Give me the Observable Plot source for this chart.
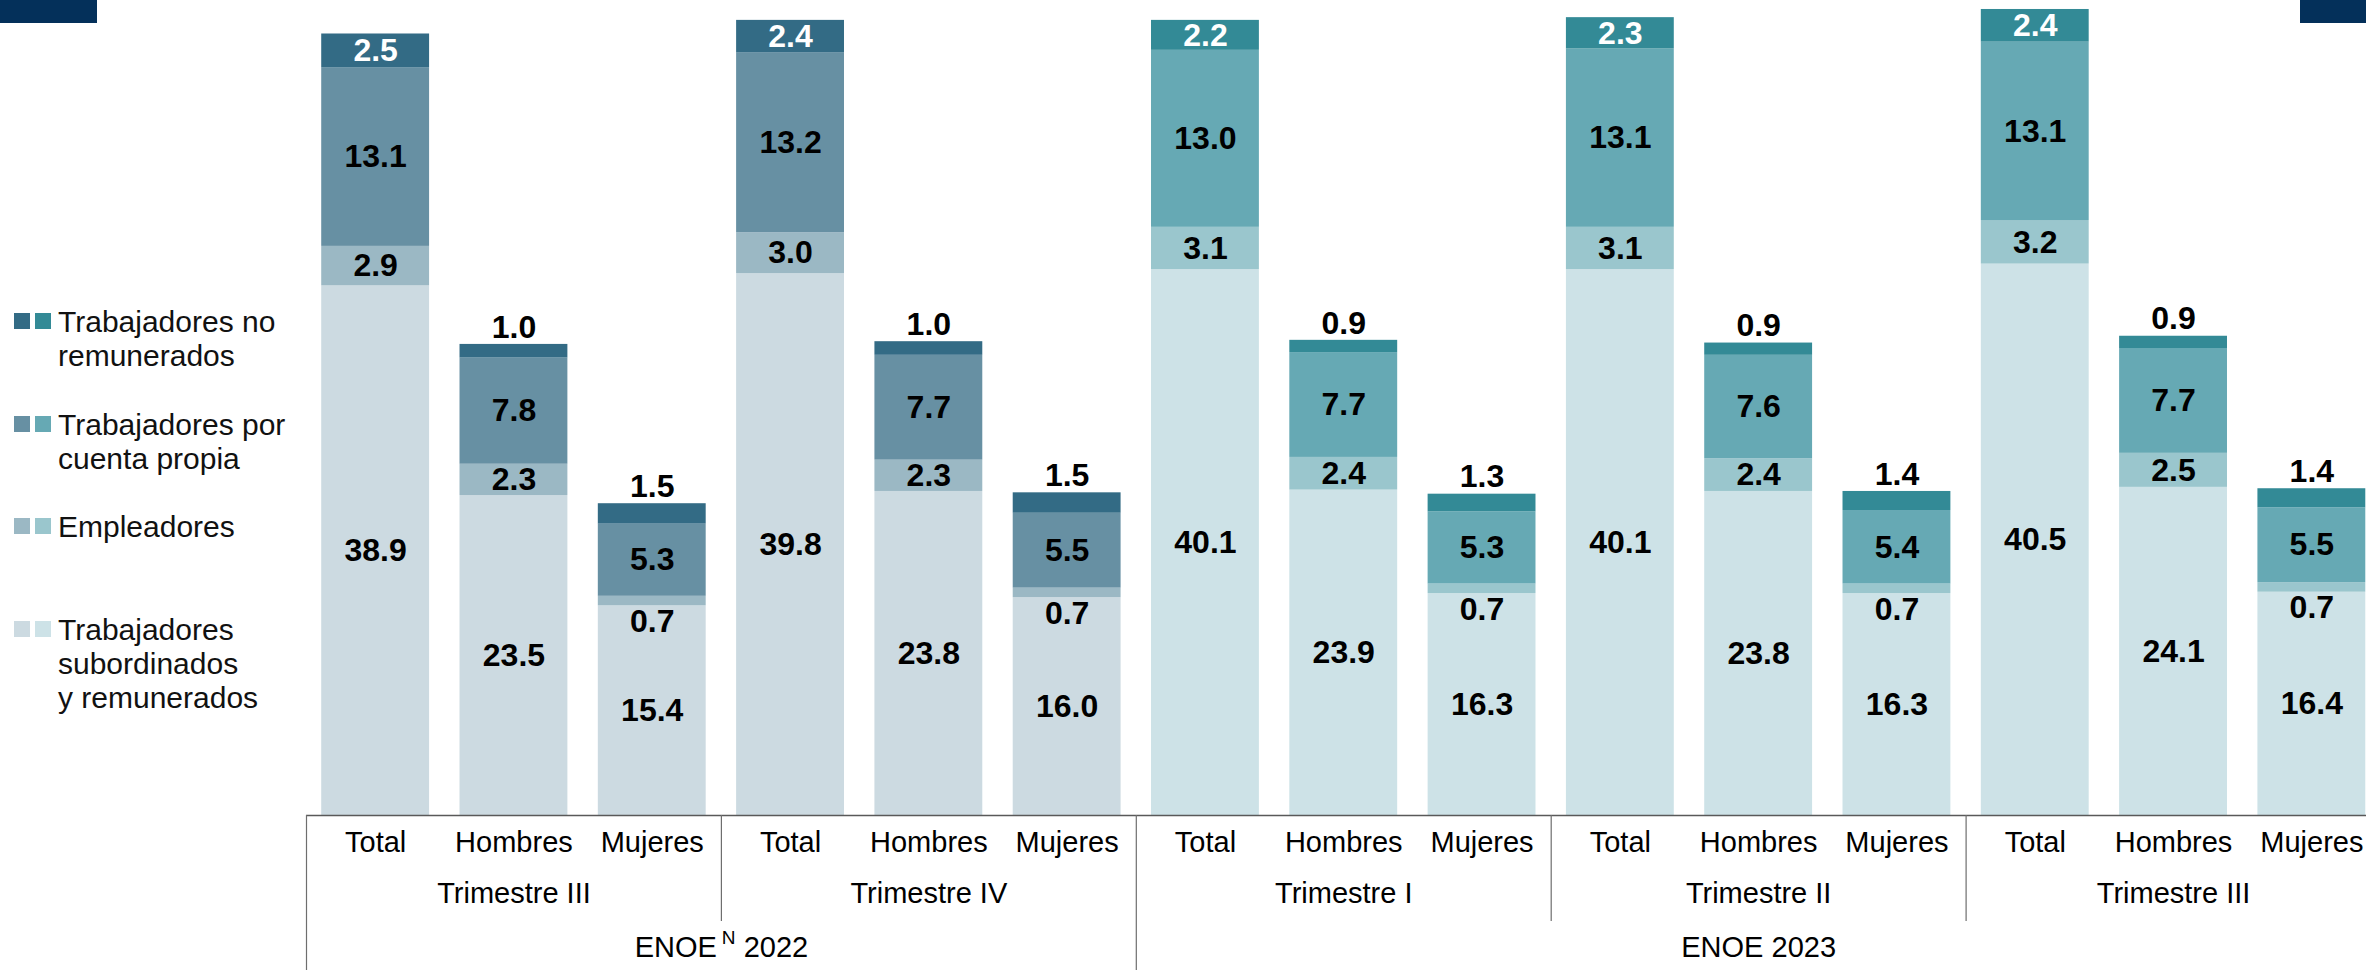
<!DOCTYPE html>
<html><head><meta charset="utf-8">
<script src="https://cdn.jsdelivr.net/npm/d3@7"></script>
<script src="https://cdn.jsdelivr.net/npm/@observablehq/plot@0.6"></script>
<style>
html,body{margin:0;padding:0;background:#fff;}
#wrap{position:relative;width:2366px;height:970px;overflow:hidden;font-family:"Liberation Sans",Arial,sans-serif;}
.navy{position:absolute;top:0;height:23px;background:#04305A;}
.entry{position:absolute;left:14px;display:flex;align-items:flex-start;}
.sw{width:16px;height:16px;margin-right:5px;margin-top:8px;}
.lt{margin-left:2px;font-size:30px;line-height:34px;color:#111;white-space:nowrap;}
#chart{position:absolute;left:0;top:0;}
</style></head>
<body><div id="wrap"><div id="chart"></div></div>
<script>
// ---------- data ----------
const categories = ["Total", "Hombres", "Mujeres"];
const quarters = ["Trimestre III", "Trimestre IV", "Trimestre I", "Trimestre II", "Trimestre III"];
const quarterYears = ["2022", "2022", "2023", "2023", "2023"];
const years = ["2022", "2023"];
const yearLabels = ["ENOE N 2022", "ENOE 2023"];
const seriesNames = ["Trabajadores subordinados y remunerados", "Empleadores", "Trabajadores por cuenta propia", "Trabajadores no remunerados"];
const legendLines = [["Trabajadores no", "remunerados"], ["Trabajadores por", "cuenta propia"], ["Empleadores"], ["Trabajadores", "subordinados", "y remunerados"]];

// 15 bars: T-III 2022 (Total, Hombres, Mujeres), T-IV 2022, T-I 2023, T-II 2023, T-III 2023
const subordinados  = [38.9, 23.5, 15.4, 39.8, 23.8, 16.0, 40.1, 23.9, 16.3, 40.1, 23.8, 16.3, 40.5, 24.1, 16.4];
const empleadores   = [2.9, 2.3, 0.7, 3.0, 2.3, 0.7, 3.1, 2.4, 0.7, 3.1, 2.4, 0.7, 3.2, 2.5, 0.7];
const cuentaPropia  = [13.1, 7.8, 5.3, 13.2, 7.7, 5.5, 13.0, 7.7, 5.3, 13.1, 7.6, 5.4, 13.1, 7.7, 5.5];
const noRemunerados = [2.5, 1.0, 1.5, 2.4, 1.0, 1.5, 2.2, 0.9, 1.3, 2.3, 0.9, 1.4, 2.4, 0.9, 1.4];

const colors2022 = ["#CCDAE1", "#9BB8C4", "#6790A3", "#336B85"];
const colors2023 = ["#CDE2E7", "#9AC6CD", "#66A9B4", "#338A96"];

// ---------- build tables ----------
const series = [subordinados, empleadores, cuentaPropia, noRemunerados];
const bars = subordinados.map((_, i) => {
  const q = Math.floor(i / 3);
  return {i, q, cat: categories[i % 3], quarter: quarters[q], year: quarterYears[q]};
});
const segs = [];
for (const b of bars) {
  let cum = 0;
  series.forEach((vals, s) => {
    const v = vals[b.i];
    const pal = b.year === "2022" ? colors2022 : colors2023;
    segs.push({...b, s, name: seriesNames[s], value: v, y1: cum, y2: cum + v, mid: cum + v / 2, color: pal[s]});
    cum += v;
  });
}
const fmt = d3.format(".1f");
segs.forEach(d => d.label = fmt(d.value));
const midLabels = segs.filter(d => !(d.s === 3 && d.cat !== "Total") && !(d.s === 1 && d.cat === "Mujeres"))
  .map(d => ({...d, tc: d.s === 3 ? "#ffffff" : "#000000"}));
const aboveLabels = segs.filter(d => d.s === 3 && d.cat !== "Total");
const belowLabels = segs.filter(d => d.s === 1 && d.cat === "Mujeres");

const quarterRows = quarters.map((name, q) => ({name, center: q * 3 + 1, start: q * 3 - 0.5}));
const yearRows = years.map((y, k) => {
  const idx = bars.filter(b => b.year === y).map(b => b.i);
  return {year: y, label: yearLabels[k], center: d3.mean(idx), start: d3.min(idx) - 0.5};
});
const quarterBounds = quarterRows.filter(q => !yearRows.some(y => y.start === q.start));

const halfBar = 0.39;

const plot = Plot.plot({
  width: 2366,
  height: 970,
  marginTop: 0,
  marginBottom: 155,
  marginLeft: 306,
  marginRight: 0,
  style: {fontFamily: "'Liberation Sans', Arial, sans-serif", background: "transparent"},
  x: {domain: [-0.5, 14.5], range: [306, 2380.5], axis: null},
  y: {domain: [0, 59.86], axis: null},
  marks: [
    Plot.rect(segs, {x1: d => d.i - halfBar, x2: d => d.i + halfBar, y1: "y1", y2: "y2", fill: "color"}),
    Plot.ruleY([0], {stroke: "#595959", strokeWidth: 1.5}),
    Plot.ruleX(yearRows, {x: "start", stroke: "#6e6e6e", strokeWidth: 1.2, insetTop: 815, insetBottom: -155}),
    Plot.ruleX(quarterBounds, {x: "start", stroke: "#6e6e6e", strokeWidth: 1.2, insetTop: 815, insetBottom: -106}),
    Plot.text(midLabels, {x: "i", y: "mid", text: "label", fill: "tc", fontSize: 32, fontWeight: "bold"}),
    Plot.text(aboveLabels, {x: "i", y: "y2", text: "label", fill: "#000", fontSize: 32, fontWeight: "bold", dy: -17}),
    Plot.text(belowLabels, {x: "i", y: "y1", text: "label", fill: "#000", fontSize: 32, fontWeight: "bold", dy: 16}),
    Plot.text(bars, {x: "i", text: "cat", frameAnchor: "bottom", dy: 36, fontSize: 29, fill: "#000"}),
    Plot.text(quarterRows, {x: "center", text: "name", frameAnchor: "bottom", dy: 87, fontSize: 29, fill: "#000"}),
    Plot.text(yearRows, {x: "center", text: "label", frameAnchor: "bottom", dy: 141, fontSize: 29, fill: "#000"})
  ]
});
document.getElementById("chart").appendChild(plot);

// superscript N in "ENOE N 2022"
plot.querySelectorAll("text").forEach(t => {
  const m = /^ENOE N (\d+)$/.exec(t.textContent);
  if (!m) return;
  const ns = "http://www.w3.org/2000/svg";
  t.textContent = "";
  const a = document.createElementNS(ns, "tspan"); a.textContent = "ENOE";
  const b = document.createElementNS(ns, "tspan"); b.textContent = "N";
  b.setAttribute("font-size", "19"); b.setAttribute("dy", "-13"); b.setAttribute("dx", "5");
  const c = document.createElementNS(ns, "tspan"); c.textContent = " " + m[1]; c.setAttribute("dy", "13");
  t.append(a, b, c);
});

// decorative navy bars
const wrap = document.getElementById("wrap");
[[0, 97], [2300, 66]].forEach(([l, w]) => {
  const d = document.createElement("div"); d.className = "navy";
  d.style.left = l + "px"; d.style.width = w + "px"; wrap.appendChild(d);
});

// legend (top to bottom: reverse stack order)
const legendOrder = [3, 2, 1, 0];
legendOrder.forEach((s, k) => {
  const e = document.createElement("div"); e.className = "entry";
  e.style.top = (305 + k * 102.5) + "px";
  [colors2022[s], colors2023[s]].forEach(c => {
    const sw = document.createElement("div"); sw.className = "sw"; sw.style.background = c; e.appendChild(sw);
  });
  const t = document.createElement("div"); t.className = "lt";
  t.innerHTML = legendLines[k].join("<br>");
  e.appendChild(t);
  wrap.appendChild(e);
});
</script>
</body></html>
